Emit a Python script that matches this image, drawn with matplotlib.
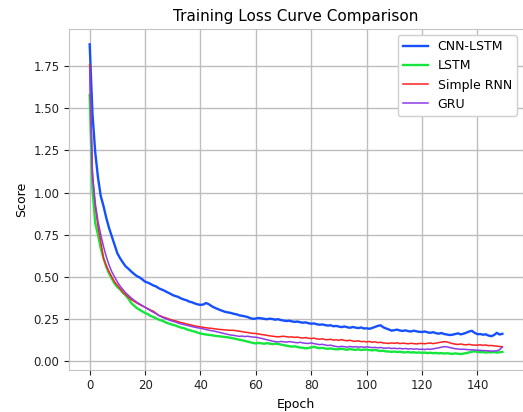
import numpy as np
import matplotlib
matplotlib.use("Agg")
import matplotlib.pyplot as plt

# Loss values, one per epoch (0-149)
cnn_lstm = [
    1.88, 1.47, 1.24, 1.09, 0.98, 0.92, 0.85, 0.79, 0.74, 0.69,
    0.64, 0.61, 0.585, 0.562, 0.548, 0.532, 0.518, 0.505, 0.497, 0.485,
    0.472, 0.466, 0.458, 0.449, 0.443, 0.432, 0.425, 0.418, 0.409, 0.401,
    0.392, 0.386, 0.381, 0.372, 0.366, 0.361, 0.353, 0.349, 0.342, 0.337,
    0.334, 0.336, 0.345, 0.338, 0.327, 0.318, 0.311, 0.304, 0.298, 0.292,
    0.289, 0.286, 0.281, 0.278, 0.272, 0.269, 0.266, 0.262, 0.255, 0.251,
    0.253, 0.256, 0.254, 0.251, 0.249, 0.252, 0.250, 0.246, 0.249, 0.244,
    0.241, 0.238, 0.240, 0.236, 0.233, 0.235, 0.231, 0.228, 0.230, 0.225,
    0.222, 0.224, 0.219, 0.216, 0.218, 0.214, 0.211, 0.213, 0.207, 0.209,
    0.205, 0.202, 0.206, 0.201, 0.198, 0.203, 0.199, 0.196, 0.200, 0.194,
    0.195, 0.192, 0.197, 0.203, 0.209, 0.213, 0.201, 0.194, 0.188, 0.181,
    0.184, 0.187, 0.182, 0.179, 0.183, 0.178, 0.176, 0.181, 0.177, 0.174,
    0.173, 0.176, 0.171, 0.168, 0.172, 0.166, 0.163, 0.167, 0.161, 0.158,
    0.155, 0.157, 0.161, 0.165, 0.159, 0.163, 0.169, 0.176, 0.180, 0.168,
    0.160, 0.161, 0.157, 0.159, 0.152, 0.148, 0.155, 0.168, 0.158, 0.162,
]
lstm = [
    1.58, 1.02, 0.82, 0.75, 0.67, 0.61, 0.56, 0.52, 0.49, 0.46,
    0.44, 0.425, 0.405, 0.39, 0.37, 0.345, 0.33, 0.315, 0.305, 0.295,
    0.286, 0.279, 0.268, 0.262, 0.254, 0.246, 0.241, 0.234, 0.226, 0.221,
    0.216, 0.211, 0.205, 0.199, 0.196, 0.189, 0.184, 0.179, 0.175, 0.169,
    0.164, 0.161, 0.158, 0.156, 0.154, 0.151, 0.149, 0.147, 0.145, 0.143,
    0.141, 0.138, 0.135, 0.131, 0.127, 0.124, 0.120, 0.116, 0.112, 0.108,
    0.105, 0.108, 0.106, 0.103, 0.107, 0.104, 0.101, 0.104, 0.102, 0.099,
    0.095, 0.092, 0.089, 0.086, 0.088, 0.084, 0.081, 0.079, 0.076, 0.078,
    0.082, 0.085, 0.080, 0.077, 0.079, 0.075, 0.073, 0.076, 0.072, 0.070,
    0.071, 0.074, 0.070, 0.068, 0.072, 0.069, 0.067, 0.070, 0.066, 0.068,
    0.069, 0.066, 0.064, 0.067, 0.063, 0.060, 0.062, 0.058, 0.057, 0.055,
    0.057, 0.054, 0.056, 0.053, 0.052, 0.055, 0.051, 0.053, 0.050, 0.052,
    0.049, 0.051, 0.048, 0.050, 0.047, 0.049, 0.046, 0.048, 0.045, 0.047,
    0.045, 0.043, 0.046, 0.044, 0.042, 0.045, 0.048, 0.052, 0.056, 0.058,
    0.055, 0.053, 0.054, 0.051, 0.053, 0.052, 0.054, 0.051, 0.053, 0.055,
]
simple_rnn = [
    1.76, 1.12, 0.92, 0.80, 0.71, 0.61, 0.565, 0.53, 0.50, 0.47,
    0.45, 0.43, 0.41, 0.395, 0.38, 0.366, 0.355, 0.345, 0.336, 0.327,
    0.320, 0.312, 0.303, 0.296, 0.284, 0.272, 0.266, 0.259, 0.254, 0.248,
    0.243, 0.239, 0.234, 0.229, 0.225, 0.221, 0.217, 0.213, 0.209, 0.206,
    0.203, 0.201, 0.198, 0.196, 0.195, 0.192, 0.190, 0.188, 0.187, 0.185,
    0.184, 0.183, 0.183, 0.180, 0.178, 0.175, 0.172, 0.170, 0.167, 0.165,
    0.164, 0.161, 0.158, 0.156, 0.153, 0.150, 0.148, 0.146, 0.144, 0.146,
    0.148, 0.145, 0.143, 0.144, 0.141, 0.143, 0.139, 0.137, 0.140, 0.136,
    0.134, 0.137, 0.132, 0.130, 0.133, 0.128, 0.127, 0.130, 0.125, 0.126,
    0.124, 0.128, 0.123, 0.121, 0.124, 0.119, 0.118, 0.121, 0.116, 0.117,
    0.114, 0.117, 0.112, 0.115, 0.110, 0.112, 0.108, 0.107, 0.105, 0.108,
    0.106, 0.109, 0.104, 0.107, 0.105, 0.103, 0.106, 0.104, 0.102, 0.105,
    0.105, 0.103, 0.106, 0.108, 0.104, 0.107, 0.110, 0.113, 0.116, 0.114,
    0.109, 0.104, 0.101, 0.099, 0.102, 0.098, 0.097, 0.100, 0.096, 0.095,
    0.095, 0.097, 0.094, 0.096, 0.092, 0.093, 0.091, 0.089, 0.087, 0.085,
]
gru = [
    1.74, 1.10, 0.94, 0.83, 0.75, 0.68, 0.62, 0.57, 0.53, 0.50,
    0.47, 0.445, 0.425, 0.405, 0.39, 0.375, 0.362, 0.350, 0.340, 0.330,
    0.320, 0.309, 0.299, 0.290, 0.281, 0.270, 0.262, 0.255, 0.249, 0.242,
    0.237, 0.232, 0.226, 0.221, 0.217, 0.213, 0.209, 0.205, 0.201, 0.198,
    0.195, 0.192, 0.188, 0.184, 0.181, 0.178, 0.174, 0.170, 0.166, 0.162,
    0.158, 0.155, 0.153, 0.150, 0.147, 0.149, 0.146, 0.148, 0.145, 0.143,
    0.142, 0.139, 0.135, 0.131, 0.127, 0.123, 0.119, 0.116, 0.114, 0.117,
    0.115, 0.113, 0.116, 0.114, 0.111, 0.109, 0.112, 0.108, 0.106, 0.105,
    0.108, 0.104, 0.101, 0.098, 0.100, 0.096, 0.093, 0.095, 0.090, 0.087,
    0.085, 0.088, 0.086, 0.083, 0.087, 0.084, 0.086, 0.083, 0.085, 0.082,
    0.085, 0.083, 0.080, 0.082, 0.079, 0.081, 0.078, 0.077, 0.079, 0.075,
    0.077, 0.074, 0.076, 0.073, 0.075, 0.072, 0.074, 0.071, 0.073, 0.070,
    0.071, 0.069, 0.072, 0.070, 0.073, 0.076, 0.079, 0.083, 0.086, 0.085,
    0.081, 0.077, 0.074, 0.072, 0.070, 0.071, 0.069, 0.068, 0.067, 0.066,
    0.065, 0.064, 0.063, 0.062, 0.061, 0.060, 0.060, 0.061, 0.068, 0.085,
]
labels = ["CNN-LSTM", "LSTM", "Simple RNN", "GRU"]

epochs = np.arange(len(cnn_lstm))

fig = plt.figure(figsize=(5.23, 4.12), dpi=100)
ax = fig.add_axes([0.132, 0.103, 0.868, 0.827])

ax.plot(epochs, cnn_lstm, color="#1450ff", lw=1.7, label=labels[0])
ax.plot(epochs, lstm, color="#14e63c", lw=1.7, label=labels[1])
ax.plot(epochs, simple_rnn, color="#ff2020", lw=1.1, label=labels[2])
ax.plot(epochs, gru, color="#8c3ce6", lw=1.1, label=labels[3])

ax.grid(True, color="#bdbdbd", lw=1.0)
ax.set_axisbelow(True)
for s in ax.spines.values():
    s.set_color("#c4c4c4")

ax.tick_params(labelsize=8.5, colors="#222222", length=3.5)
ax.set_title("Training Loss Curve Comparison", fontsize=11)
ax.set_xlabel("Epoch", fontsize=9)
ax.set_ylabel("Score", fontsize=9)
ax.legend(loc="upper right", fontsize=9, framealpha=1.0, edgecolor="#d0d0d0")

fig.savefig("out.png", dpi=100)
